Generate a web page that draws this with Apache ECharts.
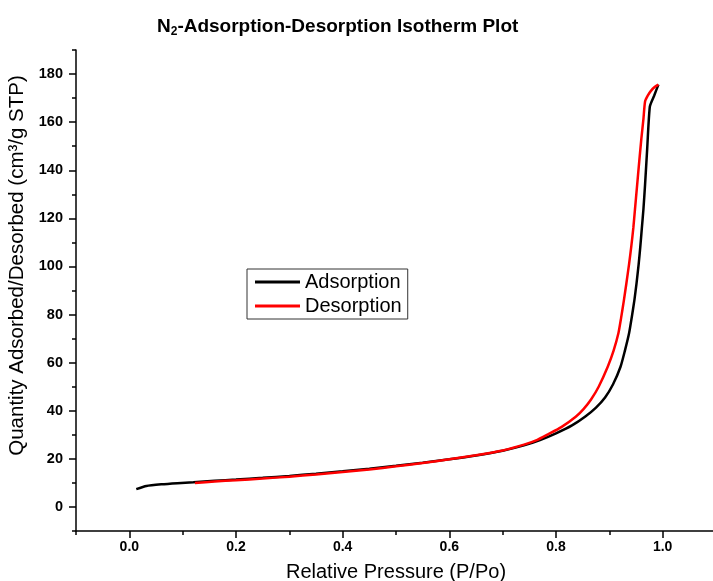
<!DOCTYPE html>
<html>
<head>
<meta charset="utf-8">
<script src="https://cdn.jsdelivr.net/npm/echarts@6/dist/echarts.min.js"></script>
<style>
  html, body { margin: 0; padding: 0; background: #fff; }
  #chart { width: 713px; height: 581px; }
</style>
</head>
<body>
<div id="chart"></div>
<script>
// relative pressure P/Po and quantity (cm3/g STP)
var adsP = [0.013, 0.032, 0.06, 0.09, 0.12, 0.16, 0.2, 0.25, 0.3, 0.35, 0.4, 0.45, 0.5, 0.55, 0.6, 0.65, 0.7, 0.74, 0.77, 0.8, 0.83, 0.855, 0.875, 0.892, 0.907, 0.921, 0.929, 0.937, 0.942, 0.947, 0.951, 0.955, 0.958, 0.961, 0.964, 0.967, 0.971, 0.976, 0.984, 0.992]
var adsQ = [7.4, 8.7, 9.4, 9.9, 10.3, 10.9, 11.4, 12.1, 12.9, 13.8, 14.8, 15.9, 17.1, 18.4, 19.8, 21.4, 23.4, 25.6, 27.8, 30.6, 33.9, 37.6, 41.3, 45.5, 51, 58.3, 64.8, 72.2, 78.8, 86, 93, 101, 108, 116, 124, 134, 149, 166.5, 171, 175.6]
var desP = [0.123, 0.16, 0.2, 0.25, 0.3, 0.35, 0.4, 0.45, 0.5, 0.55, 0.6, 0.65, 0.7, 0.74, 0.765, 0.785, 0.81, 0.837, 0.852, 0.866, 0.88, 0.897, 0.908, 0.917, 0.922, 0.927, 0.932, 0.937, 0.941, 0.945, 0.948, 0.952, 0.956, 0.96, 0.964, 0.967, 0.972, 0.978, 0.985, 0.992]
var desQ = [10.0, 10.6, 11.1, 11.8, 12.6, 13.5, 14.5, 15.6, 16.9, 18.3, 19.8, 21.5, 23.5, 25.9, 27.9, 30.2, 33.2, 37.5, 40.8, 44.8, 50, 58.3, 65, 72.2, 78.5, 85.5, 93, 101, 108, 116, 123.5, 133.5, 143.5, 153, 161.5, 168.6, 171, 173, 174.6, 175.6]

var xMajor = [0, 0.2, 0.4, 0.6, 0.8, 1.0]
var xMinor = [-0.1, 0.1, 0.3, 0.5, 0.7, 0.9, 1.1]
var yMajor = [0, 20, 40, 60, 80, 100, 120, 140, 160, 180]
var yMinor = [-10, 10, 30, 50, 70, 90, 110, 130, 150, 170, 190]

var font = '"Liberation Sans", Arial, sans-serif'

function pairs(xs, ys) {
  return xs.map(function (x, i) { return [x, ys[i]] })
}

var myChart = echarts.init(document.getElementById('chart'))

var axisLineStyle = { color: '#000', width: 1.5 }

var option = {
  backgroundColor: '#fff',
  animation: false,
  title: {
    text: 'N{sub|2}-Adsorption-Desorption Isotherm Plot',
    left: 152,
    top: 11,
    textStyle: {
      fontFamily: font,
      fontSize: 19,
      fontWeight: 'bold',
      color: '#000',
      rich: {
        sub: { fontFamily: font, fontSize: 12, fontWeight: 'bold', color: '#000', padding: [10, 0, 0, 0] }
      }
    }
  },
  legend: {
    orient: 'vertical',
    left: 247,
    top: 269,
    padding: [2, 6, 2, 8],
    itemGap: 2,
    itemWidth: 45,
    itemHeight: 3,
    borderColor: '#333',
    borderWidth: 1,
    icon: 'rect',
    textStyle: { fontFamily: font, fontSize: 20, color: '#000', lineHeight: 22 },
    data: ['Adsorption', 'Desorption']
  },
  grid: { left: 76, top: 50, width: 640, height: 481, outerBoundsMode: 'none' },
  xAxis: [
    {
      type: 'value', min: -0.1, max: 1.1,
      name: 'Relative Pressure (P/Po)',
      nameLocation: 'middle',
      nameGap: 31,
      nameTextStyle: { fontFamily: font, fontSize: 20, color: '#000' },
      axisLine: { show: true, onZero: false, lineStyle: axisLineStyle },
      axisTick: { show: true, length: 7, customValues: xMajor, lineStyle: axisLineStyle },
      axisLabel: {
        customValues: xMajor, margin: 9,
        fontFamily: font, fontSize: 14, fontWeight: 'bold', color: '#000',
        formatter: function (v) { return v.toFixed(1) }
      },
      splitLine: { show: false }
    },
    {
      type: 'value', min: -0.1, max: 1.1, position: 'bottom',
      axisLine: { show: false, onZero: false },
      axisTick: { show: true, length: 4, customValues: xMinor, lineStyle: axisLineStyle },
      axisLabel: { show: false },
      splitLine: { show: false }
    }
  ],
  yAxis: [
    {
      type: 'value', min: -10, max: 190,
      name: 'Quantity Adsorbed/Desorbed (cm\u00b3/g STP)',
      nameLocation: 'middle',
      nameGap: 46,
      nameTextStyle: { fontFamily: font, fontSize: 20.5, color: '#000', padding: [0, 0, 0, 50] },
      axisLine: { show: true, onZero: false, lineStyle: axisLineStyle },
      axisTick: { show: true, length: 7, customValues: yMajor, lineStyle: axisLineStyle },
      axisLabel: {
        customValues: yMajor, margin: 13,
        fontFamily: font, fontSize: 14.5, fontWeight: 'bold', color: '#000'
      },
      splitLine: { show: false }
    },
    {
      type: 'value', min: -10, max: 190, position: 'left',
      axisLine: { show: false, onZero: false },
      axisTick: { show: true, length: 4, customValues: yMinor, lineStyle: axisLineStyle },
      axisLabel: { show: false },
      splitLine: { show: false }
    }
  ],
  series: [
    {
      name: 'Adsorption', type: 'line', showSymbol: false, symbol: 'none',
      smooth: 0.2,
      color: '#000',
      lineStyle: { color: '#000', width: 2.5 },
      data: pairs(adsP, adsQ)
    },
    {
      name: 'Desorption', type: 'line', showSymbol: false, symbol: 'none',
      smooth: 0.2,
      color: '#ff0000',
      lineStyle: { color: '#ff0000', width: 2.5 },
      data: pairs(desP, desQ)
    }
  ]
}

myChart.setOption(option)
window.addEventListener('resize', function () {
  myChart.resize()
})
</script>
</body>
</html>
